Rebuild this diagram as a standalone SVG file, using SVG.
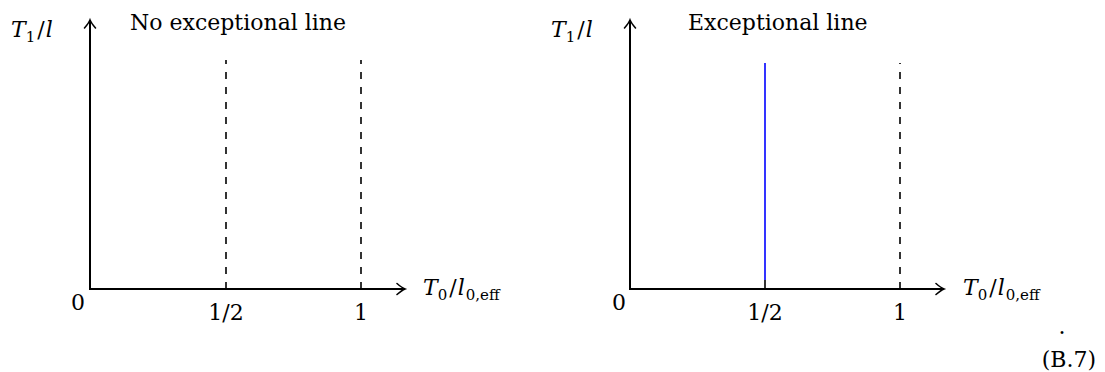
<svg xmlns="http://www.w3.org/2000/svg" width="1105" height="372" viewBox="0 0 1105 372">
<style>
text{font-family:"DejaVu Serif","Liberation Serif",serif;font-size:22px;fill:#000}
.it{font-style:italic}
.sub{font-size:15px}
.ax{stroke:#000;stroke-width:2;fill:none}
.dash{stroke:#000;stroke-width:1.6;stroke-dasharray:7 8;fill:none}
.blue{stroke:#0000ff;stroke-width:1.6;fill:none}
.tick{stroke:#000;stroke-width:1.6;fill:none}
</style>
<defs>
<marker id="arr" viewBox="-10 -7 12 14" refX="0" refY="0" markerWidth="12" markerHeight="14" markerUnits="userSpaceOnUse" orient="auto" overflow="visible">
<path d="M-8,-5.5 Q-3,-1.2 0,0 Q-3,1.2 -8,5.5" stroke="#000" stroke-width="1.6" fill="none" stroke-linecap="round"/>
</marker>
</defs>
<g id="connectors">
<line class="ax" x1="90" y1="289" x2="90" y2="20" marker-end="url(#arr)"/>
<line class="ax" x1="89" y1="289" x2="405" y2="289" marker-end="url(#arr)"/>
<line class="dash" x1="226" y1="289" x2="226" y2="60"/>
<line class="dash" x1="361" y1="289" x2="361" y2="60"/>
<line class="ax" x1="630" y1="289" x2="630" y2="20" marker-end="url(#arr)"/>
<line class="ax" x1="629" y1="289" x2="944" y2="289" marker-end="url(#arr)"/>
<line class="tick" x1="765" y1="289" x2="765" y2="280"/>
<line class="blue" x1="765" y1="280" x2="765" y2="63"/>
<line class="dash" x1="900" y1="289" x2="900" y2="63"/>
</g>
<g id="left-panel">
<text x="11" y="37"><tspan class="it">T</tspan><tspan class="sub" dy="5">1</tspan><tspan dy="-5" dx="2">/</tspan><tspan class="it" dx="1">l</tspan></text>
<text x="130" y="30">No exceptional line</text>
<text x="78" y="310" text-anchor="middle">0</text>
<text x="226" y="320" text-anchor="middle">1/2</text>
<text x="361" y="320" text-anchor="middle">1</text>
<text x="423" y="295"><tspan class="it">T</tspan><tspan class="sub" dy="5">0</tspan><tspan dy="-5" dx="2">/</tspan><tspan class="it" dx="1">l</tspan><tspan class="sub" dy="5" dx="1">0,eff</tspan></text>
</g>
<g id="right-panel">
<text x="551" y="37"><tspan class="it">T</tspan><tspan class="sub" dy="5">1</tspan><tspan dy="-5" dx="2">/</tspan><tspan class="it" dx="1">l</tspan></text>
<text x="688" y="30">Exceptional line</text>
<text x="619" y="310" text-anchor="middle">0</text>
<text x="765" y="320" text-anchor="middle">1/2</text>
<text x="900" y="320" text-anchor="middle">1</text>
<text x="963" y="295"><tspan class="it">T</tspan><tspan class="sub" dy="5">0</tspan><tspan dy="-5" dx="2">/</tspan><tspan class="it" dx="1">l</tspan><tspan class="sub" dy="5" dx="1">0,eff</tspan></text>
<text x="1062" y="334" text-anchor="middle">.</text>
<text x="1096" y="367" text-anchor="end">(B.7)</text>
</g>
</svg>
